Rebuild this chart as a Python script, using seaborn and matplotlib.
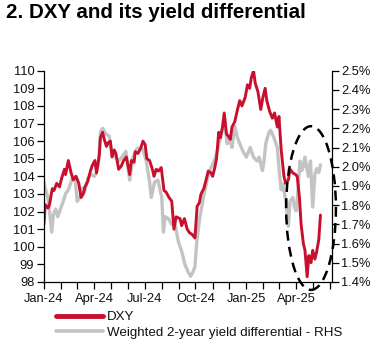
import matplotlib
matplotlib.use("Agg")
import matplotlib.pyplot as plt
import matplotlib.dates as mdates
from matplotlib.patches import Ellipse
import pandas as pd
import seaborn as sns

# ---------------- data ----------------
dxy_dates = [
    "2024-01-01", "2024-01-03", "2024-01-08", "2024-01-11", "2024-01-16", "2024-01-19",
    "2024-01-24", "2024-01-29", "2024-02-02", "2024-02-07", "2024-02-09", "2024-02-14",
    "2024-02-19", "2024-02-23", "2024-02-28", "2024-03-04", "2024-03-08", "2024-03-12",
    "2024-03-15", "2024-03-20", "2024-03-25", "2024-03-28", "2024-04-02", "2024-04-05",
    "2024-04-10", "2024-04-12", "2024-04-16", "2024-04-19", "2024-04-23", "2024-04-26",
    "2024-04-30", "2024-05-03", "2024-05-07", "2024-05-10", "2024-05-15", "2024-05-20",
    "2024-05-24", "2024-05-29", "2024-06-04", "2024-06-07", "2024-06-12", "2024-06-14",
    "2024-06-19", "2024-06-24", "2024-06-28", "2024-07-02", "2024-07-05", "2024-07-10",
    "2024-07-15", "2024-07-18", "2024-07-22", "2024-07-26", "2024-07-31", "2024-08-05",
    "2024-08-09", "2024-08-14", "2024-08-19", "2024-08-23", "2024-08-27", "2024-09-03",
    "2024-09-06", "2024-09-11", "2024-09-16", "2024-09-20", "2024-09-25", "2024-09-30",
    "2024-10-04", "2024-10-08", "2024-10-11", "2024-10-16", "2024-10-21", "2024-10-24",
    "2024-10-29", "2024-11-01", "2024-11-05", "2024-11-08", "2024-11-12", "2024-11-15",
    "2024-11-19", "2024-11-22", "2024-11-26", "2024-11-29", "2024-12-03", "2024-12-06",
    "2024-12-11", "2024-12-16", "2024-12-20", "2024-12-24", "2024-12-30", "2025-01-03",
    "2025-01-07", "2025-01-10", "2025-01-14", "2025-01-17", "2025-01-22", "2025-01-27",
    "2025-01-31", "2025-02-04", "2025-02-07", "2025-02-12", "2025-02-17", "2025-02-21",
    "2025-02-26", "2025-03-01", "2025-03-05", "2025-03-10", "2025-03-13", "2025-03-18",
    "2025-03-21", "2025-03-26", "2025-03-31", "2025-04-03", "2025-04-07", "2025-04-10",
    "2025-04-14", "2025-04-17", "2025-04-21", "2025-04-24", "2025-04-28", "2025-05-01",
    "2025-05-05", "2025-05-08", "2025-05-12", "2025-05-15",
]
dxy_values = [
    101.3, 102.4, 102.2, 102.4, 103.3, 103.2,
    103.6, 103.4, 103.9, 104.4, 104.1, 104.9,
    104.2, 103.8, 104.0, 103.6, 102.8, 103.0,
    103.4, 103.7, 104.3, 104.6, 104.9, 104.2,
    105.2, 106.2, 106.5, 106.1, 105.7, 105.9,
    106.0, 105.1, 105.5, 105.3, 104.4, 104.6,
    104.9, 105.1, 104.1, 104.9, 104.8, 105.4,
    105.3, 105.6, 106.0, 105.8, 105.0, 104.9,
    104.4, 104.0, 104.4, 104.3, 104.5, 103.2,
    103.1, 102.8, 102.6, 101.0, 101.7, 101.6,
    101.2, 101.6, 101.0, 100.8, 100.7, 100.5,
    102.3, 102.5, 103.0, 103.3, 103.9, 104.3,
    104.2, 104.0, 104.5, 105.0, 106.5, 106.2,
    106.8, 107.6, 106.4, 106.3, 106.1, 106.8,
    107.1, 107.8, 108.3, 108.0, 108.5, 109.2,
    109.0, 109.6, 110.0, 109.3, 108.8, 107.8,
    108.5, 109.0, 108.3, 107.7, 107.3, 107.6,
    106.8, 107.4, 105.5, 104.0, 103.6, 103.8,
    104.4, 104.2, 104.1, 104.0, 102.8, 101.3,
    100.2, 99.8, 98.3, 99.5, 99.1, 99.8,
    99.3, 99.7, 100.4, 101.8,
]

yd_dates = [
    "2024-01-01", "2024-01-04", "2024-01-08", "2024-01-11", "2024-01-15", "2024-01-18",
    "2024-01-22", "2024-01-26", "2024-02-01", "2024-02-06", "2024-02-09", "2024-02-14",
    "2024-02-20", "2024-02-26", "2024-03-01", "2024-03-06", "2024-03-11", "2024-03-15",
    "2024-03-20", "2024-03-26", "2024-04-01", "2024-04-05", "2024-04-09", "2024-04-12",
    "2024-04-16", "2024-04-22", "2024-04-28", "2024-05-03", "2024-05-09", "2024-05-15",
    "2024-05-21", "2024-05-28", "2024-06-04", "2024-06-10", "2024-06-16", "2024-06-22",
    "2024-06-28", "2024-07-04", "2024-07-10", "2024-07-13", "2024-07-19", "2024-07-25",
    "2024-08-01", "2024-08-04", "2024-08-07", "2024-08-13", "2024-08-19", "2024-08-25",
    "2024-08-31", "2024-09-06", "2024-09-12", "2024-09-18", "2024-09-22", "2024-09-26",
    "2024-09-30", "2024-10-03", "2024-10-08", "2024-10-11", "2024-10-16", "2024-10-22",
    "2024-10-28", "2024-11-04", "2024-11-11", "2024-11-17", "2024-11-22", "2024-11-27",
    "2024-12-02", "2024-12-06", "2024-12-11", "2024-12-16", "2024-12-20", "2024-12-26",
    "2025-01-01", "2025-01-08", "2025-01-14", "2025-01-20", "2025-01-24", "2025-01-30",
    "2025-02-02", "2025-02-05", "2025-02-11", "2025-02-14", "2025-02-20", "2025-02-26",
    "2025-03-02", "2025-03-05", "2025-03-08", "2025-03-14", "2025-03-18", "2025-03-21",
    "2025-03-26", "2025-03-29", "2025-04-01", "2025-04-04", "2025-04-08", "2025-04-11",
    "2025-04-14", "2025-04-17", "2025-04-23", "2025-04-27", "2025-05-01", "2025-05-05",
    "2025-05-08", "2025-05-12", "2025-05-15",
]
yd_values = [
    1.92, 1.88, 1.84, 1.77, 1.66, 1.75,
    1.78, 1.74, 1.79, 1.83, 1.86, 1.88,
    1.93, 1.95, 1.82, 1.84, 1.89, 1.87,
    1.94, 1.96, 1.95, 1.97, 2.03, 2.18,
    2.20, 2.17, 2.16, 2.07, 2.05, 2.03,
    2.05, 2.08, 1.93, 2.05, 2.09, 2.10,
    2.09, 2.03, 1.92, 1.84, 1.92, 1.93,
    1.84, 1.66, 1.74, 1.73, 1.70, 1.70,
    1.61, 1.56, 1.49, 1.45, 1.43, 1.45,
    1.48, 1.60, 1.72, 1.77, 1.85, 1.93,
    1.99, 2.03, 2.10, 2.17, 2.27, 2.12,
    2.14, 2.10, 2.21, 2.15, 2.12, 2.08,
    2.05, 2.10, 2.05, 2.03, 2.05, 1.98,
    2.03, 2.12, 2.18, 2.19, 2.15, 2.10,
    1.96, 1.88, 1.91, 1.81, 1.69, 1.82,
    1.84, 1.79, 1.77, 1.86, 2.03, 1.98,
    2.00, 2.05, 1.95, 2.03, 1.79, 1.96,
    1.99, 1.97, 2.01,
]

left_ticks = [98, 99, 100, 101, 102, 103, 104, 105, 106, 107, 108, 109, 110]
right_ticks = [1.4, 1.5, 1.6, 1.7, 1.8, 1.9, 2.0, 2.1, 2.2, 2.3, 2.4, 2.5]

title = "2. DXY and its yield differential"
label_dxy = "DXY"
label_yd = "Weighted 2-year yield differential - RHS"

# ---------------- styling ----------------
sns.set_theme(style="white")
plt.rcParams["font.family"] = ["Liberation Sans", "DejaVu Sans"]

RED = "#C8102E"
GREY = "#C3C3C3"

dxy = pd.DataFrame({"date": pd.to_datetime(dxy_dates), "value": dxy_values})
yd = pd.DataFrame({"date": pd.to_datetime(yd_dates), "value": yd_values})

fig = plt.figure(figsize=(3.78, 3.46), dpi=100)
ax = fig.add_axes([44 / 378, 1 - 282 / 346, (331.5 - 44) / 378, (282 - 70.7) / 346])
ax2 = ax.twinx()

sns.lineplot(data=yd, x="date", y="value", ax=ax2, color=GREY, lw=2.4, label=label_yd, legend=False)
sns.lineplot(data=dxy, x="date", y="value", ax=ax, color=RED, lw=2.1, label=label_dxy, legend=False)

ax.set_zorder(ax2.get_zorder() + 1)
ax.patch.set_visible(False)

ax.set_ylim(98, 110)
ax2.set_ylim(1.4, 2.5)
ax.set_yticks(left_ticks)
ax.set_yticklabels([f"{v:d}" for v in left_ticks])
ax2.set_yticks(right_ticks)
ax2.set_yticklabels([f"{v:.1f}%" for v in right_ticks])

ax.set_xlim(pd.Timestamp("2024-01-01"), pd.Timestamp("2025-06-04"))
ax.xaxis.set_major_locator(mdates.MonthLocator(bymonth=[1, 4, 7, 10]))
ax.xaxis.set_minor_locator(mdates.MonthLocator())
ax.xaxis.set_major_formatter(mdates.DateFormatter("%b-%y"))

ax.set_xlabel("")
ax.set_ylabel("")
ax2.set_xlabel("")
ax2.set_ylabel("")

fs = 9.3
for a in (ax, ax2):
    for s in a.spines.values():
        s.set_visible(False)
        s.set_color("black")
        s.set_linewidth(0.9)
ax.spines["left"].set_visible(True)
ax.spines["bottom"].set_visible(True)
ax2.spines["right"].set_visible(True)

ax.tick_params(axis="y", which="both", left=True, direction="out", length=5, width=0.9,
               color="black", labelsize=fs, pad=2, labelcolor="#111111")
ax.tick_params(axis="x", which="both", bottom=True, direction="out", length=5, width=0.9,
               color="black", labelsize=fs, pad=3, labelcolor="#111111")
ax2.tick_params(axis="y", which="both", right=True, direction="out", length=5, width=0.9,
                color="black", labelsize=fs, pad=2, labelcolor="#111111")
ax.grid(False)
ax2.grid(False)

# dashed ellipse highlighting the recent divergence
ell = Ellipse((mdates.date2num(pd.Timestamp("2025-04-28")), 102.2), width=90, height=9.3,
              fill=False, edgecolor="black", lw=1.8, ls=(0, (4, 2.5)), clip_on=False, zorder=10)
ax.add_patch(ell)

# title
fig.text(6 / 378, 1 - 3.5 / 346, title, ha="left", va="top", fontsize=14.8, fontweight="bold",
         color="black")

# legend
h1, l1 = ax.get_legend_handles_labels()
h2, l2 = ax2.get_legend_handles_labels()
leg = fig.legend(h1 + h2, l1 + l2, loc="upper left",
                 bbox_to_anchor=(56 / 378, 1 - 311 / 346), frameon=False, fontsize=9.6,
                 handlelength=3.5, handletextpad=0.3, labelspacing=0.25,
                 borderpad=0, borderaxespad=0)
leg.get_lines()[0].set_linewidth(3.5)
leg.get_lines()[1].set_linewidth(2.6)
for t in leg.get_texts():
    t.set_color("#111111")

fig.savefig("out.png", dpi=100)
